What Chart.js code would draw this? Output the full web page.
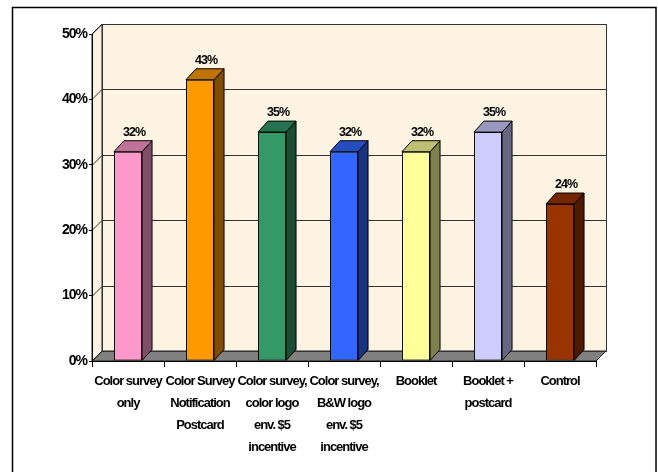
<!DOCTYPE html>
<html>
<head>
<meta charset="utf-8">
<script src="https://cdn.jsdelivr.net/npm/chart.js@4/dist/chart.umd.min.js"></script>
<style>
  html, body { margin: 0; padding: 0; background: #fff; }
  #wrap { width: 658px; height: 472px; }
</style>
</head>
<body>
<div id="wrap"><canvas id="chart" width="658" height="472"></canvas></div>
<script>
const categories = [
  ["Color survey", "only"],
  ["Color Survey", "Notification", "Postcard"],
  ["Color survey,", "color logo", "env. $5", "incentive"],
  ["Color survey,", "B&W logo", "env. $5", "incentive"],
  "Booklet",
  ["Booklet +", "postcard"],
  "Control"
];
const responseRates = [32, 43, 35, 32, 32, 35, 24];
const frontColors = ["#ff99cc", "#ff9900", "#339966", "#3366ff", "#ffff99", "#ccccff", "#993300"];
const sideColors = ["#804d66", "#7f4c00", "#1a4d33", "#1a3380", "#80804d", "#666680", "#4d1a00"];
const topColors = ["#c0739a", "#bf7300", "#267350", "#264dbf", "#bfbf73", "#9999bf", "#732600"];
const yTicks = [0, 10, 20, 30, 40, 50];

const FONT = "'Liberation Sans', Arial, sans-serif";

// depth of the walls / floor and of the columns
const DX = 10, DY = 10;
const BAR_DX = 10, BAR_DY = 11;

const box3d = {
  id: "box3d",
  beforeDraw(chart) {
    const c = chart.ctx;
    const a = chart.chartArea;
    const y = chart.scales.y;
    // tight text like the old office charts
    c.letterSpacing = "-1px";
    c.save();
    c.fillStyle = "#fff";
    c.fillRect(0, 0, chart.width, chart.height);
    // outer frame
    c.strokeStyle = "#000";
    c.lineWidth = 1.5;
    c.strokeRect(12.5, 7.5, 643.5, 470);

    c.lineWidth = 1;
    c.strokeStyle = "#222";
    // back wall
    c.fillStyle = "#fcf3e3";
    c.fillRect(a.left + DX, a.top - DY, a.right - a.left, a.bottom - a.top);
    // side wall
    c.fillStyle = "#fdf1e4";
    c.beginPath();
    c.moveTo(a.left, a.bottom);
    c.lineTo(a.left + DX, a.bottom - DY);
    c.lineTo(a.left + DX, a.top - DY);
    c.lineTo(a.left, a.top);
    c.closePath();
    c.fill();
    c.stroke();
    // floor
    c.fillStyle = "#808080";
    c.beginPath();
    c.moveTo(a.left, a.bottom);
    c.lineTo(a.left + DX, a.bottom - DY);
    c.lineTo(a.right + DX, a.bottom - DY);
    c.lineTo(a.right, a.bottom);
    c.closePath();
    c.fill();
    c.stroke();
    // grid lines on back and side wall
    c.strokeStyle = "#333";
    yTicks.forEach(v => {
      const py = Math.round(y.getPixelForValue(v)) + 0.5;
      c.beginPath();
      c.moveTo(a.left, py);
      c.lineTo(a.left + DX, py - DY);
      if (v > 0) c.lineTo(a.right + DX, py - DY);
      c.stroke();
    });
    c.strokeRect(a.left + DX + 0.5, a.top - DY + 0.5, a.right - a.left, a.bottom - a.top);
    c.restore();
  },
  afterDatasetsDraw(chart) {
    const c = chart.ctx;
    const meta = chart.getDatasetMeta(0);
    c.save();
    c.lineWidth = 1;
    c.strokeStyle = "#000";
    meta.data.forEach((bar, i) => {
      const p = bar.getProps(["x", "y", "base", "width"], true);
      const l = p.x - p.width / 2, r = p.x + p.width / 2;
      const t = p.y, b = p.base;
      // right side
      c.fillStyle = sideColors[i];
      c.beginPath();
      c.moveTo(r, t);
      c.lineTo(r + BAR_DX, t - BAR_DY);
      c.lineTo(r + BAR_DX, b - BAR_DY);
      c.lineTo(r, b);
      c.closePath();
      c.fill();
      c.stroke();
      // top
      c.fillStyle = topColors[i];
      c.beginPath();
      c.moveTo(l, t);
      c.lineTo(l + BAR_DX, t - BAR_DY);
      c.lineTo(r + BAR_DX, t - BAR_DY);
      c.lineTo(r, t);
      c.closePath();
      c.fill();
      c.stroke();
      // value label
      c.fillStyle = "#000";
      c.font = "bold 12.5px " + FONT;
      c.textAlign = "center";
      c.textBaseline = "alphabetic";
      c.fillText(responseRates[i] + "%", p.x + BAR_DX / 2 + 1, t - BAR_DY - 5);
    });
    c.restore();
  }
};

const ctx = document.getElementById("chart").getContext("2d");
const chart = new Chart(ctx, {
  type: "bar",
  data: {
    labels: categories,
    datasets: [{
      label: "Response rate",
      data: responseRates,
      backgroundColor: frontColors,
      borderColor: "#000",
      borderWidth: 1,
      borderSkipped: false,
      categoryPercentage: 1,
      barPercentage: 0.39
    }]
  },
  options: {
    responsive: false,
    animation: false,
    layout: { padding: { left: 0, right: 62, top: 34, bottom: 0 } },
    plugins: {
      legend: { display: false },
      tooltip: { enabled: false }
    },
    scales: {
      x: {
        afterFit: s => { s.height = 111; },
        grid: { display: true, drawOnChartArea: false, offset: true, tickLength: 6, color: "#000" },
        border: { display: true, color: "#000" },
        ticks: {
          color: "#000",
          font: { family: FONT, size: 13, weight: "bold", lineHeight: 22 / 13 },
          padding: 3,
          maxRotation: 0,
          autoSkip: false
        }
      },
      y: {
        min: 0,
        max: 50,
        afterFit: s => { s.width = 92; },
        afterBuildTicks: s => { s.ticks = yTicks.map(v => ({ value: v })); },
        grid: { display: true, drawOnChartArea: false, tickLength: 3, color: "#000" },
        border: { display: true, color: "#000" },
        ticks: {
          color: "#000",
          padding: 2,
          font: { family: FONT, size: 14, weight: "bold" },
          callback: v => v + "%"
        }
      }
    }
  },
  plugins: [box3d]
});
</script>
</body>
</html>
